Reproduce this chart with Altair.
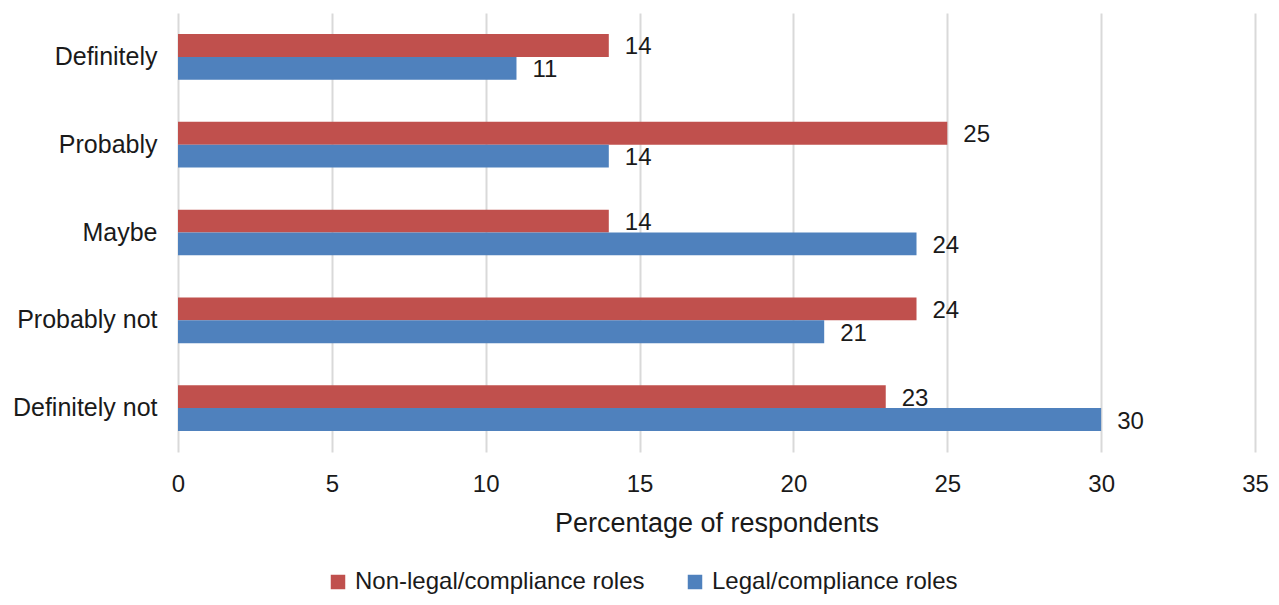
import altair as alt
import pandas as pd

categories = ["Definitely", "Probably", "Maybe", "Probably not", "Definitely not"]
series = ["Non-legal/compliance roles", "Legal/compliance roles"]
non_legal = [14, 25, 14, 24, 23]
legal = [11, 14, 24, 21, 30]
colors = ["#C0504D", "#4F81BD"]

rows = []
for c, a, b in zip(categories, non_legal, legal):
    rows.append({"category": c, "series": series[0], "value": a})
    rows.append({"category": c, "series": series[1], "value": b})
df = pd.DataFrame(rows)

FONT = "Liberation Sans"
TXT = "#1a1a1a"

y_enc = alt.Y("category:N", sort=categories, title=None,
              scale=alt.Scale(paddingInner=0.48, paddingOuter=0.24),
              axis=alt.Axis(domain=False, ticks=False, labelFontSize=25,
                            labelFont=FONT, labelColor=TXT, labelPadding=21))
x_enc = alt.X("value:Q", title="Percentage of respondents",
              scale=alt.Scale(domain=[0, 35], nice=False),
              axis=alt.Axis(values=[0, 5, 10, 15, 20, 25, 30, 35], domain=False, ticks=False,
                            grid=True, gridColor="#d9d9d9", gridWidth=2, labelFlush=False,
                            labelFontSize=24, labelFont=FONT, labelColor=TXT,
                            labelPadding=20, titleFontSize=27, titleFont=FONT,
                            titleFontWeight="normal", titleColor=TXT, titlePadding=14))
yoff = alt.YOffset("series:N", sort=series)
color = alt.Color("series:N", sort=series,
                  scale=alt.Scale(domain=series, range=colors),
                  legend=alt.Legend(title=None, orient="none", direction="horizontal",
                                    legendX=148, legendY=557, symbolType="square",
                                    symbolSize=210, symbolStrokeWidth=0,
                                    labelFontSize=24, labelFont=FONT, labelColor=TXT,
                                    labelLimit=500, columnPadding=38, labelOffset=5))

bars = alt.Chart(df).mark_bar(cornerRadius=0).encode(
    x=x_enc, y=y_enc, yOffset=yoff, color=color)

labels = alt.Chart(df).mark_text(align="left", baseline="middle", dx=16, dy=2,
                                 fontSize=24, font=FONT, color=TXT).encode(
    x="value:Q", y=alt.Y("category:N", sort=categories), yOffset=yoff, text="value:Q")

chart = (bars + labels).properties(
    width=1077, height=439,
    autosize=alt.AutoSizeParams(type="none"),
    padding={"left": 170, "top": 5, "right": 16, "bottom": 144},
).configure(background="white").configure_view(stroke=None)

chart.save("out.html", embed_options={"renderer": "svg", "actions": False})
